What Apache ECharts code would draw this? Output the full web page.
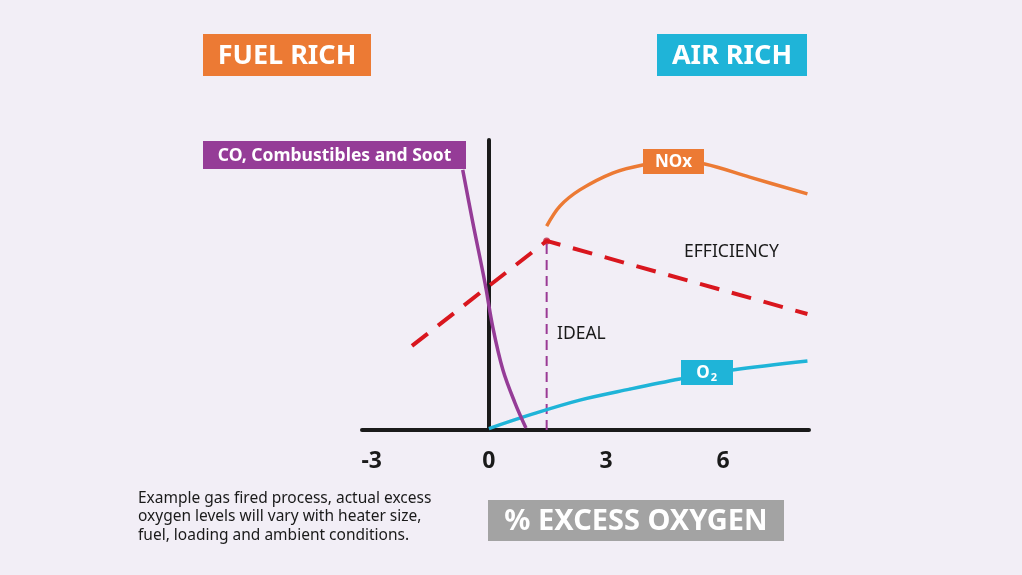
<!DOCTYPE html>
<html>
<head>
<meta charset="utf-8">
<script src="https://cdn.jsdelivr.net/npm/echarts@6/dist/echarts.min.js"></script>
<style>
  html, body { margin: 0; padding: 0; background: #f2eef6; }
  #chart { width: 1022px; height: 575px; }
</style>
</head>
<body>
<div id="chart"></div>
<script>
// % excess oxygen on x, relative level (0-100) on y
var xTicks = [-3, 0, 3, 6];
var coData = [[-0.67, 89.7], [-0.41, 71.4], [-0.10, 50.7], [0.10, 35.5], [0.36, 20.7], [0.67, 9.3], [0.95, 0.7]];
var noxData = [[1.48, 70.3], [1.82, 77.2], [2.33, 82.8], [3.17, 88.6], [3.94, 91.4], [4.76, 92.8], [5.53, 91.7], [6.68, 87.2], [8.16, 81.4]];
var effData = [[-1.97, 29.0], [1.48, 65.2], [8.16, 40.0]];
var o2Data = [[0.0, 0.5], [1.05, 5.2], [2.33, 10.3], [3.61, 14.1], [4.89, 17.6], [6.24, 20.7], [8.16, 23.8]];
var idealData = [[1.48, 0], [1.48, 65.2]];

var font = '"Noto Sans", "Open Sans", sans-serif';

// labelled box helper (rect + centered text)
function box(x, y, w, h, fill, text, size) {
  return {
    type: 'group',
    z: 100,
    children: [
      { type: 'rect', z: 100, shape: { x: x, y: y, width: w, height: h }, style: { fill: fill } },
      { type: 'text', z: 101, style: { text: text, x: x + w / 2, y: y + h / 2 + 1, fill: '#fff',
        font: 'bold ' + size + 'px ' + font, textAlign: 'center', textVerticalAlign: 'middle',
        align: 'center', verticalAlign: 'middle' } }
    ]
  };
}

var myChart = echarts.init(document.getElementById('chart'));
myChart.setOption({
  backgroundColor: '#f2eef6',
  animation: false,
  grid: { left: 362, right: 213, top: 140, bottom: 145 },
  xAxis: {
    type: 'value',
    min: -3.25,
    max: 8.2,
    splitLine: { show: false },
    axisTick: { show: false },
    axisLine: { lineStyle: { color: '#1a1a1a', width: 4 } },
    axisLabel: {
      customValues: xTicks,
      margin: 20,
      color: '#1a1a1a',
      fontSize: 23,
      fontWeight: 'bold',
      fontFamily: font
    }
  },
  yAxis: {
    type: 'value',
    min: 0,
    max: 100,
    splitLine: { show: false },
    axisTick: { show: false },
    axisLabel: { show: false },
    axisLine: { show: true, onZero: true, lineStyle: { color: '#1a1a1a', width: 4 } }
  },
  series: [
    {
      name: 'IDEAL', type: 'line', data: idealData, silent: true,
      symbol: 'none',
      lineStyle: { color: '#9a3a95', width: 2, type: [10, 6] }
    },
    {
      name: 'EFFICIENCY', type: 'line', data: effData, silent: true,
      symbol: 'none',
      lineStyle: { color: '#d9161e', width: 4, type: [20, 13] }
    },
    {
      name: 'NOx', type: 'line', data: noxData, smooth: 0.35, silent: true,
      symbol: 'none',
      lineStyle: { color: '#ec7a34', width: 3.5 }
    },
    {
      name: 'O2', type: 'line', data: o2Data, smooth: 0.35, silent: true,
      symbol: 'none',
      lineStyle: { color: '#1fb4d8', width: 3.5 }
    },
    {
      name: 'CO', type: 'line', data: coData, smooth: 0.35, silent: true,
      symbol: 'none',
      lineStyle: { color: '#953c97', width: 3.5 }
    },
    {
      name: 'peak', type: 'scatter', data: [idealData[1]], silent: true,
      symbol: 'circle', symbolSize: 7,
      itemStyle: { color: '#c0213f' }
    }
  ],
  graphic: [
    box(203, 34, 168, 42, '#ec7a34', 'FUEL RICH', 27),
    box(657, 34, 150, 42, '#1fb4d8', 'AIR RICH', 27),
    box(203, 141, 263, 28, '#953c97', 'CO, Combustibles and Soot', 17.5),
    box(643, 149, 61, 25, '#ec7a34', 'NOx', 17),
    box(488, 500, 296, 41, '#a3a3a3', '% EXCESS OXYGEN', 29),
    { type: 'rect', z: 100, shape: { x: 681, y: 360, width: 52, height: 25 }, style: { fill: '#1fb4d8' } },
    { type: 'text', z: 101, style: { text: 'O', x: 703, y: 373, fill: '#fff', font: 'bold 17px ' + font,
      textAlign: 'center', textVerticalAlign: 'middle', align: 'center', verticalAlign: 'middle' } },
    { type: 'text', z: 101, style: { text: '2', x: 714, y: 378, fill: '#fff', font: 'bold 11px ' + font,
      textAlign: 'center', textVerticalAlign: 'middle', align: 'center', verticalAlign: 'middle' } },
    { type: 'text', z: 101, style: { text: 'EFFICIENCY', x: 684, y: 252, fill: '#1a1a1a', font: '17.5px ' + font,
      textVerticalAlign: 'middle', verticalAlign: 'middle' } },
    { type: 'text', z: 101, style: { text: 'IDEAL', x: 557, y: 334, fill: '#1a1a1a', font: '17.5px ' + font,
      textVerticalAlign: 'middle', verticalAlign: 'middle' } },
    { type: 'text', z: 101, style: {
      text: 'Example gas fired process, actual excess\noxygen levels will vary with heater size,\nfuel, loading and ambient conditions.',
      x: 138, y: 489, fill: '#1a1a1a', font: '15.5px ' + font, lineHeight: 18.5 } }
  ]
});
</script>
</body>
</html>
